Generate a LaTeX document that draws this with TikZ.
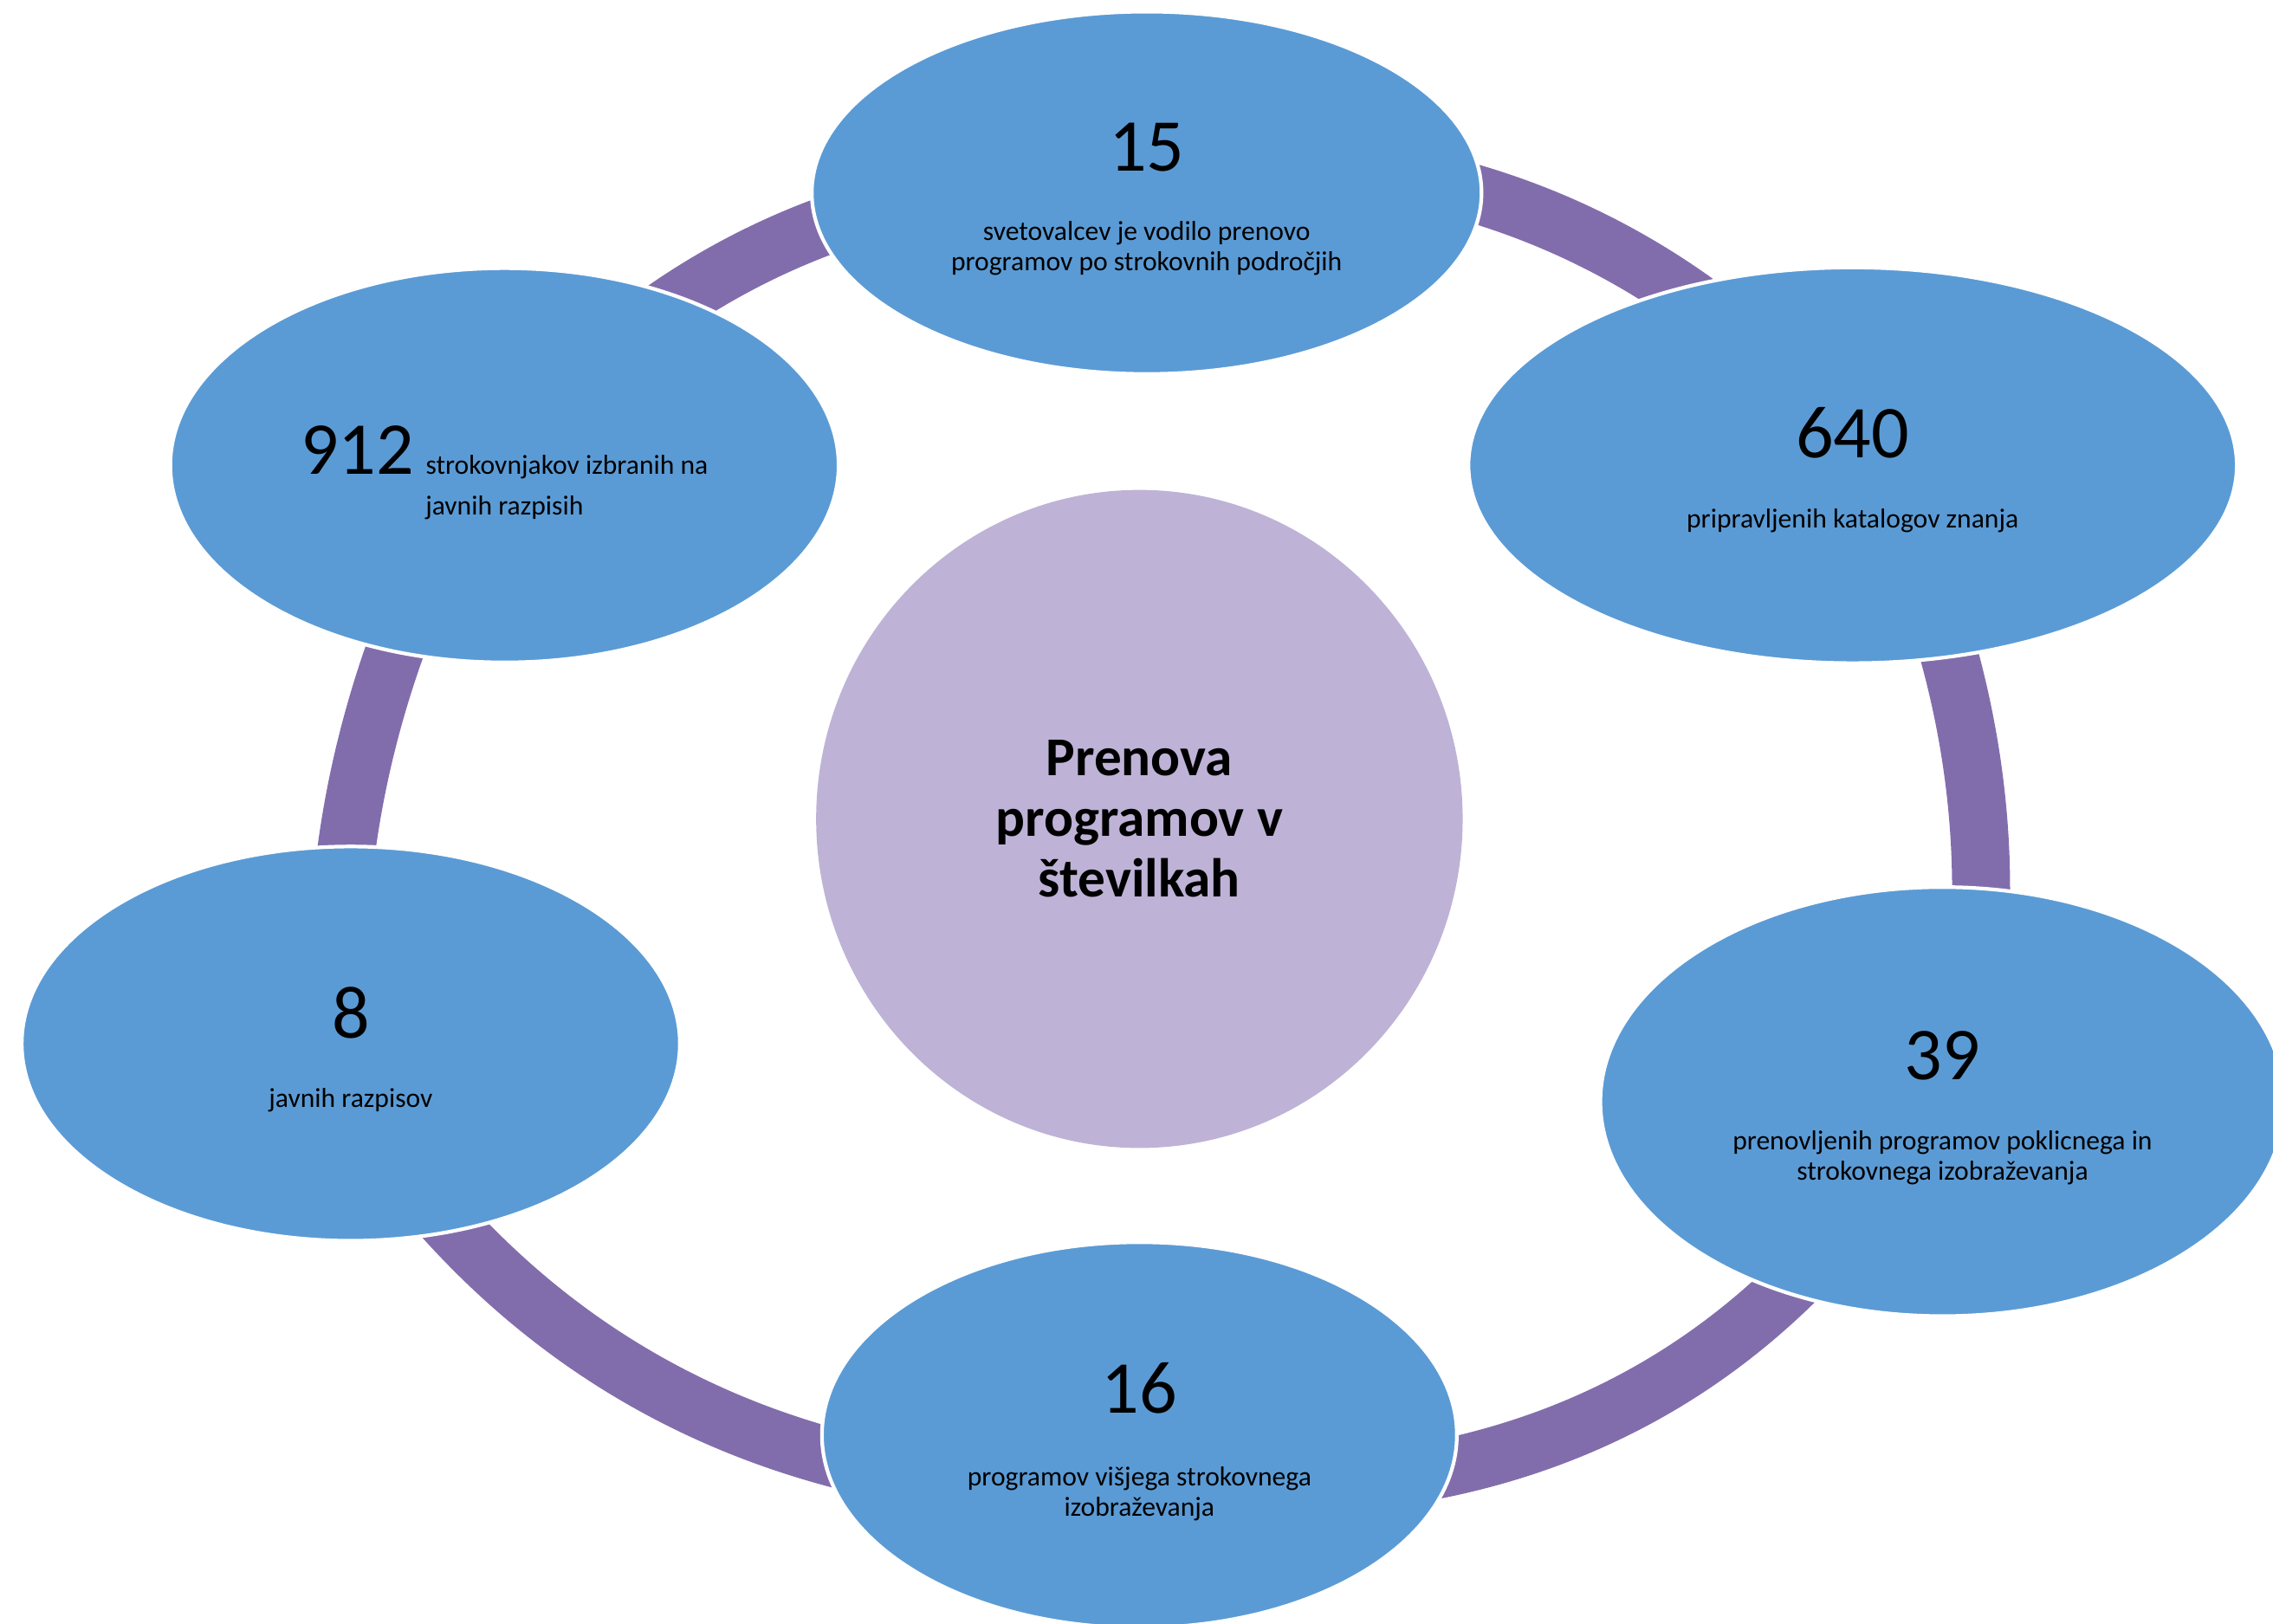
\documentclass[tikz,border=0pt]{standalone}
\usepackage{fontspec}
\setmainfont{Carlito}
\usetikzlibrary{shapes.geometric,calc}
\definecolor{nodeblue}{HTML}{5B9BD5}
\definecolor{ringpurple}{HTML}{826DAC}
\definecolor{hubpurple}{HTML}{BEB3D6}
\newlength\pxu
\setlength\pxu{0.016735cm}
\tikzset{
  blob/.style={ellipse, fill=nodeblue, draw=white, line width=1.2pt, inner sep=0pt},
  hubshape/.style={ellipse, fill=hubpurple, inner sep=0pt},
  ringseg/.style={draw=ringpurple, line width=40\pxu},
  numtext/.style={font=\fontsize{24.5}{28}\selectfont, anchor=base, inner sep=0pt},
  captext/.style={font=\fontsize{9}{10.5}\selectfont, anchor=base, inner sep=0pt},
  hubtext/.style={font=\bfseries\fontsize{18}{20}\selectfont, anchor=base, inner sep=0pt},
}
% smooth arc through start, middle and end points (quadratic-like curve)
\newcommand\ringarc[4]{%
  \coordinate (#1s) at #2;
  \coordinate (#1m) at #3;
  \coordinate (#1e) at #4;
  \coordinate (#1q) at ($2*(#1m)-0.5*(#1s)-0.5*(#1e)$);
  \draw[ringseg] (#1s) .. controls ($(#1s)!2/3!(#1q)$) and ($(#1e)!2/3!(#1q)$) .. (#1e);
}
\begin{document}
\begin{tikzpicture}[x=0.016735cm, y=-0.016735cm]
\useasboundingbox (0,0) rectangle (1568,1120);
\clip (0,0) rectangle (1568,1120);

% ring segments (ends hidden under the nodes)
\ringarc{tl}{(448,221)}{(518.4,177.9)}{(595,147)}
\ringarc{tr}{(993,127)}{(1088.8,160.9)}{(1176,213)}
\ringarc{rr}{(1336,423)}{(1361,532)}{(1366,641)}
\ringarc{br}{(1247,875)}{(1121,969)}{(969,1018)}
\ringarc{bl}{(297,830)}{(433.5,946)}{(600,1012)}
\ringarc{ll}{(282,423)}{(252,517)}{(236,612)}

% outer nodes
\node[blob, minimum width=462\pxu, minimum height=250\pxu] (n15) at (791,133) {};
\node[blob, minimum width=530\pxu, minimum height=273\pxu] (n640) at (1278,321) {};
\node[blob, minimum width=472\pxu, minimum height=296\pxu] (n39) at (1340,760) {};
\node[blob, minimum width=438\pxu, minimum height=266\pxu] (n16) at (786,990) {};
\node[blob, minimum width=454\pxu, minimum height=272\pxu] (n8) at (242,720) {};
\node[blob, minimum width=461\pxu, minimum height=272\pxu] (n912) at (348,321) {};

% hub
\node[hubshape, minimum width=446\pxu, minimum height=454\pxu] (hub) at (786,565) {};
\node[hubtext] (hubA) at (786,535) {Prenova};
\node[hubtext] (hubB) at (786,577) {programov v};
\node[hubtext] (hubC) at (786,619) {številkah};

% texts
\node[numtext] (t15) at (791,118) {15};
\node[captext] (c15a) at (791,166) {svetovalcev je vodilo prenovo};
\node[captext] (c15b) at (791,187) {programov po strokovnih področjih};

\node[numtext] (t640) at (1278,316) {640};
\node[captext] (c640a) at (1278,364) {pripravljenih katalogov znanja};

\node[numtext] (t39) at (1340,745) {39};
\node[captext] (c39a) at (1340,793) {prenovljenih programov poklicnega in};
\node[captext] (c39b) at (1340,814) {strokovnega izobraževanja};

\node[numtext] (t16) at (786,975) {16};
\node[captext] (c16a) at (786,1025) {programov višjega strokovnega};
\node[captext] (c16b) at (786,1046) {izobraževanja};

\node[numtext] (t8) at (242,716) {8};
\node[captext] (c8a) at (242,764) {javnih razpisov};

\node[anchor=base, inner sep=0pt] (t912) at (348,327) {\fontsize{24.5}{28}\selectfont 912\hspace{3.8pt}\fontsize{9}{10.5}\selectfont strokovnjakov izbranih na};
\node[captext] (c912b) at (348,355) {javnih razpisih};
\end{tikzpicture}
\end{document}
